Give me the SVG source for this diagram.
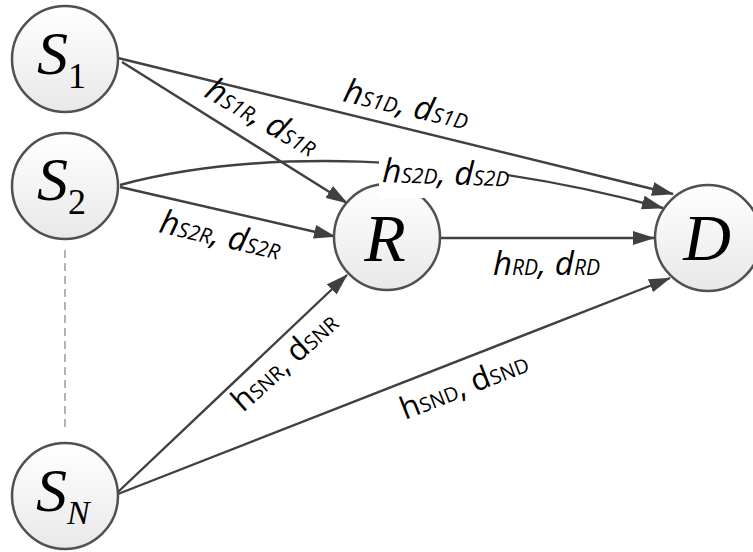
<svg xmlns="http://www.w3.org/2000/svg" width="753" height="552" viewBox="0 0 753 552">
<style>
.edge{fill:none;stroke:#404040;stroke-width:2.4;}
.arr{marker-end:url(#ah);}
.node circle{fill:url(#ng);stroke:#505050;stroke-width:2.5;}
.nt{font-family:"Liberation Serif","Times New Roman",serif;font-style:italic;fill:#000;}
.sub{font-style:normal;}
.lab{font-family:"Open Sans","Noto Sans",sans-serif;font-size:33px;fill:#000;}
.it{font-style:italic;}
.s{font-size:21px;}
.su{font-size:20px;}
.lu{font-size:31px;}
</style>
<defs>
<linearGradient id="ng" x1="0" y1="0" x2="0" y2="1">
<stop offset="0" stop-color="#ffffff"/>
<stop offset="1" stop-color="#e8e8e8"/>
</linearGradient>
<marker id="ah" markerUnits="userSpaceOnUse" markerWidth="22" markerHeight="14" refX="21" refY="7" orient="auto">
<path d="M0,0 L22,7 L0,14 z" fill="#404040"/>
</marker>
</defs>
<rect width="753" height="552" fill="#ffffff"/>
<g id="connectors">
<path class="edge arr" d="M118,58 L673,194"/>
<path class="edge arr" d="M122,62 L347,203"/>
<path class="edge arr" d="M120,185 C250,150 450,150 663,208"/>
<path class="edge arr" d="M120,187 L335,236.5"/>
<path class="edge arr" d="M440,238 L654,238"/>
<path class="edge arr" d="M118,492 L347,275"/>
<path class="edge arr" d="M118,494 L670,278"/>
<path d="M65,250 L65,430" fill="none" stroke="#a0a0a0" stroke-width="1.6" stroke-dasharray="8,5"/>
</g>
<g id="S1" class="node">
<circle cx="65" cy="59" r="53"/>
<text class="nt" x="37" y="74" font-size="62">S<tspan class="sub" font-size="36" dy="14">1</tspan></text>
</g>
<g id="S2" class="node">
<circle cx="65" cy="186" r="53"/>
<text class="nt" x="37" y="200" font-size="62">S<tspan class="sub" font-size="36" dy="14">2</tspan></text>
</g>
<g id="SN" class="node">
<circle cx="65" cy="496" r="53"/>
<text class="nt" x="36" y="511" font-size="62">S<tspan font-size="34" dy="13">N</tspan></text>
</g>
<g id="R" class="node">
<circle cx="387" cy="237" r="53"/>
<text class="nt" x="385" y="261" font-size="68" text-anchor="middle">R</text>
</g>
<g id="D" class="node">
<circle cx="708" cy="238" r="53"/>
<text class="nt" x="707" y="260" font-size="66" text-anchor="middle">D</text>
</g>
<g id="labels">
<text class="lab it" transform="translate(342,101) rotate(13)">h<tspan class="s">S1D</tspan>, d<tspan class="s">S1D</tspan></text>
<text class="lab it" transform="translate(203,96) rotate(30)">h<tspan class="s">S1R</tspan>, d<tspan class="s">S1R</tspan></text>
<rect x="379" y="158" width="129" height="40" fill="#ffffff"/>
<text class="lab it" transform="translate(382,182) rotate(2)">h<tspan class="s">S2D</tspan>, d<tspan class="s">S2D</tspan></text>
<text class="lab it" transform="translate(158,232) rotate(13)">h<tspan class="s">S2R</tspan>, d<tspan class="s">S2R</tspan></text>
<text class="lab it" x="493" y="275">h<tspan class="s">RD</tspan>, d<tspan class="s">RD</tspan></text>
<text class="lab lu" transform="translate(243,413) rotate(-42)">h<tspan class="su">SNR</tspan>, d<tspan class="su">SNR</tspan></text>
<text class="lab lu" transform="translate(405,420) rotate(-21.5)">h<tspan class="su">SND</tspan>, d<tspan class="su">SND</tspan></text>
</g>
</svg>
